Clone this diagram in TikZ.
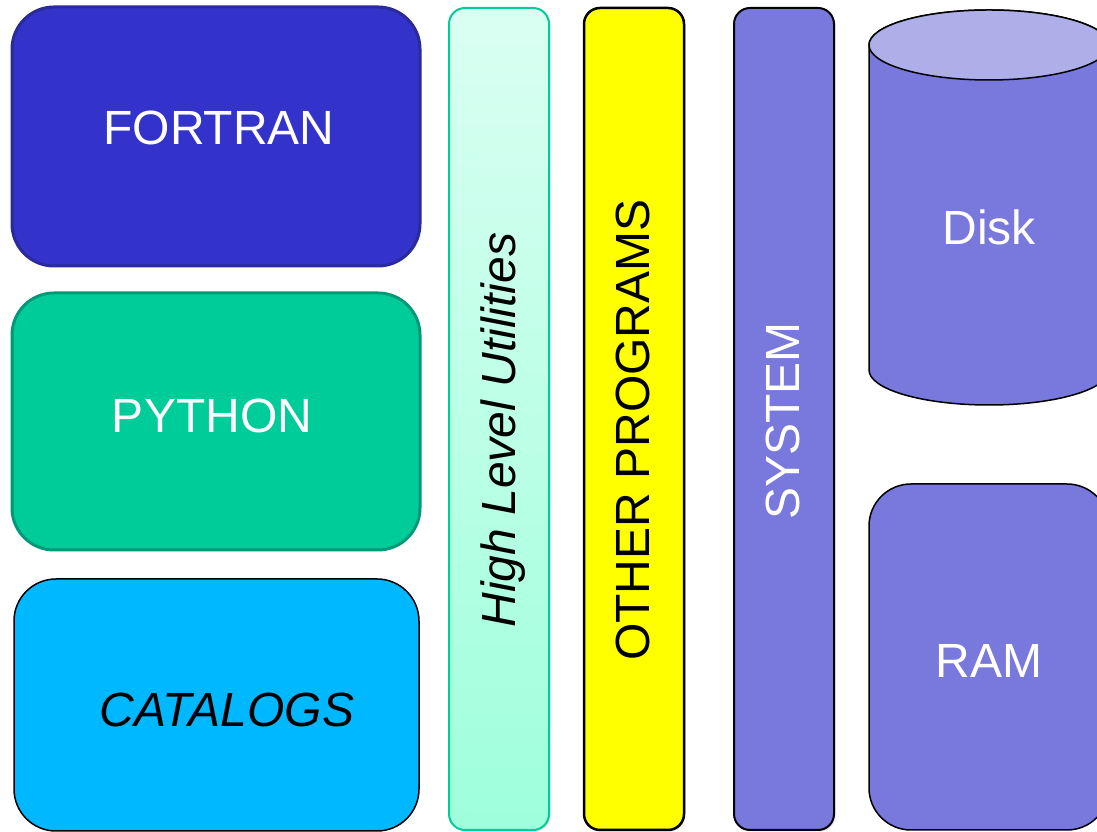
\documentclass[tikz,border=0pt]{standalone}
\usepackage{fontspec}
\setmainfont{Liberation Sans}
\usetikzlibrary{shadows}
\definecolor{fortranfill}{HTML}{3333CC}
\definecolor{fortranline}{HTML}{2A2A99}
\definecolor{pythonfill}{HTML}{00CC99}
\definecolor{pythonline}{HTML}{009977}
\definecolor{catfill}{HTML}{00B8FF}
\definecolor{hlutop}{HTML}{DAFFF2}
\definecolor{hlubottom}{HTML}{9EFFDC}
\definecolor{hluline}{HTML}{00CC99}
\definecolor{otherfill}{RGB}{255,255,0}
\definecolor{sysfill}{HTML}{7878DD}
\definecolor{disktop}{HTML}{AEAEE8}
\tikzset{
  biglabel/.style={font=\fontsize{48}{52}\selectfont, inner sep=0pt},
  bigbox/.style={rectangle, rounded corners=42pt, inner sep=0pt},
  column/.style={rectangle, rounded corners=16pt, inner sep=0pt,
    minimum width=100pt, minimum height=822pt,
    drop shadow={opacity=0.22, shadow xshift=1.5pt, shadow yshift=-1.5pt}},
}
\begin{document}
\begin{tikzpicture}[x=1pt,y=1pt]
\useasboundingbox (0,0) rectangle (1097,832);
\clip (0,0) rectangle (1097,832);
\fill[white] (0,0) rectangle (1097,832);

% left stack of language boxes
\node[bigbox, fill=fortranfill, draw=fortranline, line width=3pt,
  minimum width=408pt, minimum height=259pt] (fortran) at (216,695.5) {};
\node[bigbox, fill=pythonfill, draw=pythonline, line width=3pt,
  minimum width=408pt, minimum height=257pt] (python) at (216,410.5) {};
\node[bigbox, fill=catfill, draw=black, line width=1.5pt,
  minimum width=405pt, minimum height=252pt] (catalogs) at (216.5,127) {};

\node[biglabel, text=white] (tfortran) at (219,704) {FORTRAN};
\node[biglabel, text=white] (tpython) at (212,416) {PYTHON};
\node[biglabel, text=black, font=\fontsize{48}{52}\selectfont\itshape] (tcatalogs) at (227,122) {CATALOGS};

% vertical columns
\node[column, top color=hlutop, bottom color=hlubottom, draw=hluline, line width=2pt] (hlu) at (499,413) {};
\node[column, fill=otherfill, draw=black, line width=2.5pt] (other) at (634,413) {};
\node[column, fill=sysfill, draw=black, line width=2pt] (system) at (784,413) {};

\node[biglabel, rotate=90, font=\fontsize{48}{52}\selectfont\itshape] (thlu) at (503,402) {High Level Utilities};
\node[biglabel, rotate=90] (tother) at (633,402) {OTHER PROGRAMS};
\node[biglabel, rotate=90, text=white] (tsystem) at (783,411) {SYSTEM};

% disk cylinder
\filldraw[fill=sysfill, draw=black, line width=1.5pt]
  (869,787) -- (869,462) arc[start angle=180, end angle=360, x radius=120pt, y radius=35pt]
  -- (1109,787) arc[start angle=0, end angle=180, x radius=120pt, y radius=35pt] -- cycle;
\filldraw[fill=disktop, draw=black, line width=1.5pt]
  (989,787) ellipse[x radius=120pt, y radius=35pt];
\node[biglabel, text=white] (disk) at (989,605) {Disk};

% RAM block
\node[bigbox, fill=sysfill, draw=black, line width=1.5pt,
  minimum width=240pt, minimum height=346pt] (ramb) at (989,175) {};
\node[biglabel, text=white] (ram) at (989,171) {RAM};
\end{tikzpicture}
\end{document}
